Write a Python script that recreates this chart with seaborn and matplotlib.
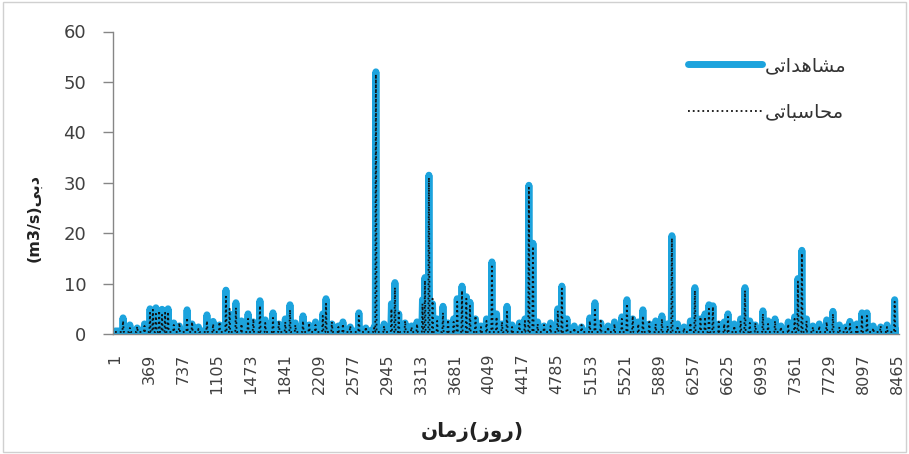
import numpy as np
import pandas as pd
import matplotlib
matplotlib.use("Agg")
import matplotlib.pyplot as plt
from matplotlib.patches import Rectangle
import seaborn as sns

# ---------------- data ----------------
event_days = [88, 162, 241, 320, 380, 411, 444, 479, 510, 543, 575, 637, 697, 781, 835, 904,
              996, 1063, 1132, 1202, 1241, 1310, 1370, 1441, 1498, 1570, 1627, 1711, 1775, 1844,
              1895, 1953, 2036, 2102, 2171, 2250, 2285, 2349, 2419, 2468, 2547, 2641, 2716, 2805,
              2825, 2913, 2993, 3031, 3072, 3141, 3210, 3270, 3329, 3356, 3399, 3438, 3488, 3551,
              3606, 3666, 3705, 3757, 3804, 3843, 3903, 3962, 4022, 4081, 4131, 4190, 4244, 4299,
              4378, 4438, 4481, 4525, 4576, 4645, 4715, 4794, 4838, 4893, 4972, 5051, 5140, 5196,
              5259, 5338, 5407, 5487, 5542, 5605, 5665, 5715, 5784, 5853, 5921, 5982, 6029, 6090,
              6160, 6229, 6278, 6338, 6387, 6430, 6473, 6536, 6595, 6636, 6704, 6773, 6820, 6872,
              6932, 7014, 7070, 7145, 7209, 7288, 7357, 7393, 7436, 7486, 7555, 7624, 7704, 7772,
              7842, 7911, 7956, 8030, 8086, 8140, 8208, 8288, 8357, 8440]
observed = [3.2, 1.8, 1.2, 2.0, 5.0, 4.6, 5.2, 4.4, 4.9, 4.5, 5.0, 2.2, 1.6, 4.8, 2.0, 1.4,
            3.8, 2.5, 1.8, 8.7, 4.0, 6.2, 2.6, 4.0, 2.4, 6.6, 2.8, 4.2, 2.0, 3.0,
            5.8, 2.2, 3.6, 1.8, 2.4, 4.0, 7.0, 2.0, 1.6, 2.4, 1.4, 4.2, 1.2, 1.4,
            52.0, 2.0, 6.0, 10.2, 4.0, 2.2, 1.6, 2.4, 6.8, 11.2, 31.5, 6.0, 3.0, 5.5,
            2.2, 3.0, 7.0, 9.5, 7.4, 6.3, 3.0, 1.6, 3.0, 14.3, 4.0, 2.0, 5.5, 1.8,
            2.2, 3.0, 29.5, 18.0, 2.4, 1.6, 2.2, 5.0, 9.5, 3.0, 1.6, 1.4, 3.2, 6.2,
            2.2, 1.6, 2.4, 3.4, 6.8, 3.0, 2.4, 4.8, 2.0, 2.6, 3.6, 2.0, 19.5, 2.0,
            1.4, 2.6, 9.2, 3.0, 4.0, 5.8, 5.6, 2.0, 2.4, 4.0, 2.0, 3.0, 9.2, 2.6,
            1.8, 4.6, 2.6, 3.0, 1.6, 2.4, 3.4, 11.0, 16.6, 3.0, 1.6, 2.0, 2.8, 4.5,
            1.8, 1.4, 2.5, 2.0, 4.2, 4.2, 1.6, 1.4, 1.8, 6.8]
computed = [2.6, 1.2, 1.5, 1.6, 4.2, 4.8, 4.0, 4.6, 3.8, 4.2, 4.4, 1.8, 2.2, 3.2, 2.4, 1.0,
            2.6, 2.0, 2.4, 7.4, 5.0, 5.2, 2.0, 3.0, 3.0, 5.6, 2.2, 3.2, 2.6, 2.4,
            4.8, 1.8, 2.6, 2.2, 1.8, 3.6, 6.0, 2.4, 1.4, 2.0, 1.6, 3.6, 1.4, 1.2,
            51.5, 1.6, 5.0, 9.2, 4.6, 2.6, 1.4, 2.0, 6.0, 10.6, 31.0, 7.0, 2.6, 4.2,
            2.8, 2.4, 6.4, 8.6, 7.0, 5.6, 3.6, 1.4, 2.6, 13.4, 3.4, 2.4, 4.4, 1.4,
            2.0, 2.6, 29.0, 17.4, 2.0, 1.8, 1.6, 4.6, 9.0, 2.6, 1.2, 1.8, 2.6, 5.2,
            2.6, 1.4, 2.0, 3.0, 6.0, 3.6, 2.0, 3.6, 2.4, 2.0, 3.0, 1.6, 19.0, 1.6,
            1.2, 2.2, 8.6, 3.4, 3.4, 5.0, 5.4, 2.4, 2.0, 3.4, 1.6, 2.6, 8.6, 2.2,
            2.2, 4.0, 2.0, 2.6, 1.4, 2.0, 3.0, 10.4, 16.0, 2.6, 1.4, 1.6, 2.4, 4.0,
            1.4, 1.6, 2.0, 1.8, 3.8, 3.6, 1.2, 1.6, 1.4, 6.4]
base_observed = 0.6
base_computed = 0.4
first_day = 1
last_day = 8470
x_tick_labels = [1, 369, 737, 1105, 1473, 1841, 2209, 2577, 2945, 3313, 3681, 4049,
                 4417, 4785, 5153, 5521, 5889, 6257, 6625, 6993, 7361, 7729, 8097, 8465]
y_ticks = [0, 10, 20, 30, 40, 50, 60]

# ---------------- simple Persian shaping (presentation forms, visual order) ----------------
FORMS = {
    'ا': ('\uFE8D', '\uFE8E'),
    'ب': ('\uFE8F', '\uFE90', '\uFE91', '\uFE92'),
    'ت': ('\uFE95', '\uFE96', '\uFE97', '\uFE98'),
    'ح': ('\uFEA1', '\uFEA2', '\uFEA3', '\uFEA4'),
    'د': ('\uFEA9', '\uFEAA'),
    'ر': ('\uFEAD', '\uFEAE'),
    'ز': ('\uFEAF', '\uFEB0'),
    'س': ('\uFEB1', '\uFEB2', '\uFEB3', '\uFEB4'),
    'ش': ('\uFEB5', '\uFEB6', '\uFEB7', '\uFEB8'),
    'م': ('\uFEE1', '\uFEE2', '\uFEE3', '\uFEE4'),
    'ن': ('\uFEE5', '\uFEE6', '\uFEE7', '\uFEE8'),
    'ه': ('\uFEE9', '\uFEEA', '\uFEEB', '\uFEEC'),
    'و': ('\uFEED', '\uFEEE'),
    'ی': ('\uFBFC', '\uFBFD', '\uFBFE', '\uFBFF'),
}


def shape(word):
    out = []
    for i, c in enumerate(word):
        f = FORMS.get(c)
        if f is None:
            out.append(c)
            continue
        prev_j = i > 0 and word[i - 1] in FORMS and len(FORMS[word[i - 1]]) == 4
        next_j = len(f) == 4 and i < len(word) - 1 and word[i + 1] in FORMS
        if prev_j and next_j:
            out.append(f[3])
        elif prev_j:
            out.append(f[1])
        elif next_j:
            out.append(f[2])
        else:
            out.append(f[0])
    return ''.join(reversed(out))


label_obs = shape('مشاهداتی')
label_sim = shape('محاسباتی')
y_label = '(m3/s)' + shape('دبی')
x_label = shape('زمان') + '(' + shape('روز') + ')'

# ---------------- build series from the events ----------------
half = 7
xs, yo, yc = [first_day], [base_observed], [base_computed]
for d, o, c in zip(event_days, observed, computed):
    xs += [d - half, d, d + half]
    yo += [base_observed, o, base_observed]
    yc += [base_computed, c, base_computed]
xs.append(last_day)
yo.append(base_observed)
yc.append(base_computed)
df = pd.DataFrame({'day': xs, 'obs': yo, 'sim': yc})

# ---------------- plot ----------------
sns.set_theme(style='white')
plt.rcParams['font.family'] = ['DejaVu Sans']

fig = plt.figure(figsize=(9.09, 4.54), dpi=100)
ax = fig.add_axes([112.7 / 909, 1 - 334 / 454, (899 - 112.7) / 909, (334 - 31.5) / 454])

sns.lineplot(data=df, x='day', y='obs', ax=ax, color='#1CA3DD', linewidth=5.0,
             estimator=None, sort=False, label=label_obs, solid_joinstyle='round')
sns.lineplot(data=df, x='day', y='sim', ax=ax, color='#111111', linewidth=1.3,
             estimator=None, sort=False, linestyle=':', label=label_sim)

ax.set_xlim(-24, 8487)
ax.set_ylim(0, 60)
ax.set_yticks(y_ticks)
ax.set_yticklabels([str(v) for v in y_ticks], fontsize=13, color='#404040')
ax.set_xticks(x_tick_labels)
ax.set_xticklabels([str(v) for v in x_tick_labels], rotation=90, fontsize=11.5, color='#404040')
ax.tick_params(axis='y', direction='out', length=7, width=1, color='#868686', pad=12, left=True)
ax.tick_params(axis='x', direction='out', length=0, width=1, color='#868686', pad=14, bottom=True)

for s in ['top', 'right']:
    ax.spines[s].set_visible(False)
for s in ['left', 'bottom']:
    ax.spines[s].set_color('#868686')
    ax.spines[s].set_linewidth(1)
ax.grid(False)

ax.set_ylabel(y_label, fontsize=11.5, fontweight='bold', color='#222222')
ax.yaxis.set_label_coords(-0.090, 0.383)
ax.set_xlabel(x_label, fontsize=14.5, fontweight='bold', color='#222222')
ax.xaxis.set_label_coords(0.457, -0.29)

leg = ax.legend(loc='upper left', bbox_to_anchor=(688 / 909, 1 - 56 / 454),
                bbox_transform=fig.transFigure, frameon=False, fontsize=14,
                handlelength=3.8, labelspacing=1.45, handletextpad=0.15,
                borderaxespad=0, borderpad=0)
for t in leg.get_texts():
    t.set_color('#333333')

fig.patches.append(Rectangle((0.003, 0.004), 0.994, 0.992, transform=fig.transFigure,
                             fill=False, edgecolor='#d0d0d0', linewidth=1))

fig.savefig('out.png', dpi=100)
